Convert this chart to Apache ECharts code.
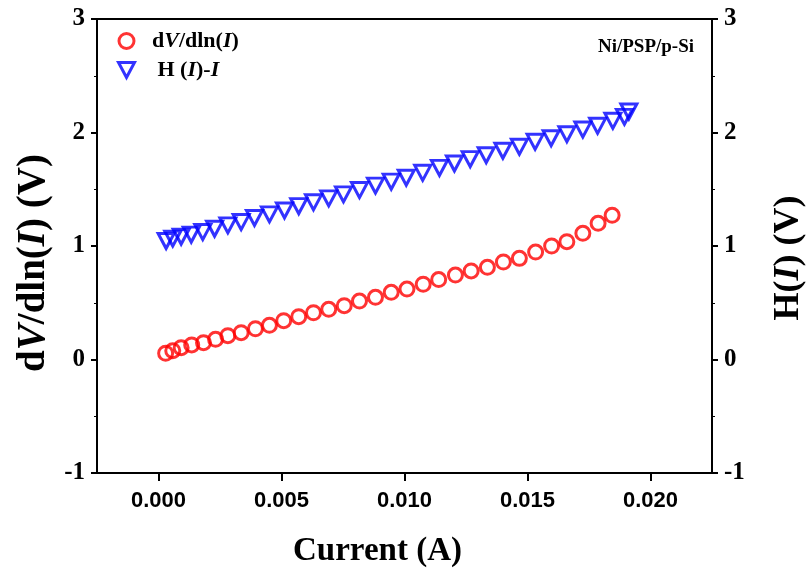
<!DOCTYPE html>
<html><head><meta charset="utf-8">
<script src="https://cdn.jsdelivr.net/npm/echarts@6/dist/echarts.min.js"></script>
<style>html,body{margin:0;padding:0;background:#fff}#c{width:806px;height:572px}</style>
</head><body><div id="c"></div>
<script>
// dV/dln(I) series (red circles)
const currentDV = [0.00029,0.00058,0.00092,0.00135,0.00183,0.00232,0.00282,0.00336,0.00394,0.00451,0.00509,0.0057,0.0063,0.00692,0.00755,0.00817,0.00882,0.00946,0.0101,0.01076,0.01139,0.01207,0.01271,0.01337,0.01402,0.01467,0.01533,0.01598,0.0166,0.01725,0.01787,0.01844];
const dVdlnI = [0.055,0.078,0.104,0.128,0.148,0.178,0.21,0.236,0.271,0.301,0.342,0.377,0.412,0.442,0.474,0.515,0.548,0.592,0.621,0.663,0.704,0.744,0.78,0.812,0.859,0.891,0.947,1.0,1.038,1.112,1.2,1.27];
// H(I) series (blue down-triangles)
const currentH = [0.00031,0.00058,0.00092,0.00133,0.0018,0.00228,0.00282,0.00336,0.0039,0.00451,0.00512,0.0057,0.0063,0.00692,0.00752,0.00817,0.00882,0.00946,0.01007,0.01074,0.01142,0.01203,0.01267,0.01332,0.014,0.01467,0.01531,0.01596,0.0166,0.01725,0.01785,0.01847,0.01894,0.01912];
const hValues = [1.044,1.065,1.082,1.10,1.123,1.152,1.182,1.211,1.247,1.279,1.313,1.351,1.385,1.42,1.455,1.493,1.532,1.567,1.602,1.645,1.688,1.727,1.765,1.80,1.839,1.874,1.918,1.95,1.985,2.026,2.059,2.103,2.138,2.185];
const xTickValues = [0, 0.005, 0.010, 0.015, 0.020];
const seriesNames = ['dV/dln(I)', 'H (I)-I'];

const serif = '"Liberation Serif","Times New Roman",serif';
const sans = '"Liberation Sans",Arial,sans-serif';
function rich(size){
  return {
    b:{fontFamily:serif,fontWeight:'bold',fontSize:size,color:'#000'},
    i:{fontFamily:serif,fontWeight:'bold',fontStyle:'italic',fontSize:size,color:'#000'}
  };
}
const downTri = 'path://M0,0 L16,0 L8,15 Z';
const chart = echarts.init(document.getElementById('c'), null, {renderer:'canvas'});
const yAxisCommon = {
  type:'value', min:-1, max:3, interval:1,
  axisLine:{show:true,onZero:false,lineStyle:{color:'#000',width:2}},
  axisTick:{show:true,length:6,lineStyle:{color:'#000',width:2}},
  minorTick:{show:true,splitNumber:2,length:3,lineStyle:{color:'#000',width:1}},
  splitLine:{show:false},
  axisLabel:{fontFamily:serif,fontWeight:'bold',fontSize:25,color:'#000',margin:12},
  nameLocation:'middle', nameRotate:90
};
chart.setOption({
  animation:false,
  backgroundColor:'#fff',
  grid:{left:97,right:94,top:19,bottom:99,show:true,borderColor:'#000',borderWidth:2,outerBoundsMode:'none',containLabel:false},
  xAxis:{
    type:'value', min:-0.0025, max:0.0225,
    axisLine:{show:true,onZero:false,lineStyle:{color:'#000',width:2}},
    axisTick:{show:true,customValues:xTickValues,length:8,lineStyle:{color:'#000',width:2}},
    splitLine:{show:false},
    axisLabel:{customValues:xTickValues,formatter:v=>v.toFixed(3),fontFamily:sans,fontWeight:'bold',fontSize:22,color:'#000',margin:17},
    name:'{b|Current (A)}', nameLocation:'middle', nameGap:62,
    nameTextStyle:{rich:rich(33),padding:[0,54,0,0]}
  },
  yAxis:[
    Object.assign({}, yAxisCommon, {position:'left',
      name:'{b|d}{i|V}{b|/dln(}{i|I}{b|) (V)}', nameGap:42,
      nameTextStyle:{rich:rich(39),padding:[0,34,0,0]}}),
    Object.assign({}, yAxisCommon, {position:'right',
      name:'{b|H(}{i|I}{b|) (V)}', nameGap:59,
      nameTextStyle:{rich:rich(36),padding:[0,24,0,0]}})
  ],
  legend:{
    orient:'vertical', left:112, top:25, itemGap:7, itemWidth:30, itemHeight:15,
    data:[{name:seriesNames[0],icon:'circle'},{name:seriesNames[1],icon:downTri}],
    itemStyle:{borderWidth:3},
    formatter:function(n){
      if(n===seriesNames[0]) return '{b| d}{i|V}{b|/dln(}{i|I}{b|)}';
      return '{b|  H (}{i|I}{b|)-}{i|I}';
    },
    textStyle:{rich:rich(22)}
  },
  graphic:[{type:'text',right:112,top:38,style:{text:'Ni/PSP/p-Si',font:'bold 19px '+serif,fill:'#000'}}],
  series:[
    {name:seriesNames[0],type:'scatter',yAxisIndex:0,symbol:'circle',symbolSize:14,
     itemStyle:{color:'rgba(255,255,255,0)',borderColor:'#ff0000',borderWidth:3},
     data:currentDV.map((x,i)=>[x,dVdlnI[i]])},
    {name:seriesNames[1],type:'scatter',yAxisIndex:1,symbol:'triangle',symbolRotate:180,symbolSize:[16,15],
     itemStyle:{color:'rgba(255,255,255,0)',borderColor:'#0000ff',borderWidth:3},
     data:currentH.map((x,i)=>[x,hValues[i]])}
  ]
});
</script></body></html>
